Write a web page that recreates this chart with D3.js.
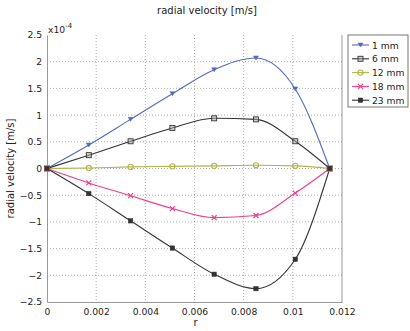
<!DOCTYPE html>
<html lang="en">
<head>
<meta charset="UTF-8">
<title>radial velocity</title>
<script src="https://cdn.jsdelivr.net/npm/d3@7"></script>
<style>
  body { margin: 0; background: #fff; }
  svg { font-family: "DejaVu Sans", Verdana, sans-serif; }
</style>
</head>
<body>
<svg id="chart" width="410" height="331"></svg>
<script>
// r positions of the samples (m)
const rValues = [0, 0.0017, 0.0034, 0.0051, 0.0068, 0.0085, 0.0101, 0.0115];

// radial velocity in units of 1e-4 m/s
const v1mm  = [0, 0.44, 0.92, 1.40, 1.85, 2.07, 1.49, 0];
const v6mm  = [0, 0.25, 0.51, 0.76, 0.94, 0.92, 0.51, 0];
const v12mm = [0, 0.01, 0.03, 0.04, 0.05, 0.06, 0.05, 0];
const v18mm = [0, -0.27, -0.51, -0.75, -0.92, -0.88, -0.46, 0];
const v23mm = [0, -0.47, -0.98, -1.49, -1.98, -2.25, -1.70, 0];

const seriesNames = ["1 mm", "6 mm", "12 mm", "18 mm", "23 mm"];
const seriesValues = [v1mm, v6mm, v12mm, v18mm, v23mm];
const seriesColors = ["#5468bd", "#333333", "#b3b34a", "#f03c8c", "#333333"];
const seriesMarkers = ["tri", "square", "circle", "cross", "fsquare"];

const xTicks = [0, 0.002, 0.004, 0.006, 0.008, 0.01, 0.012];
const yTicks = [-2.5, -2, -1.5, -1, -0.5, 0, 0.5, 1, 1.5, 2, 2.5];

const svg = d3.select("#chart");
const m = { left: 47, right: 342, top: 35, bottom: 302 };

const x = d3.scaleLinear().domain([0, 0.012]).range([m.left, m.right]);
const y = d3.scaleLinear().domain([-2.5, 2.5]).range([m.bottom, m.top]);

// grid
const grid = svg.append("g");
grid.selectAll("line.v").data(xTicks.slice(1, -1)).enter().append("line")
  .attr("x1", d => x(d)).attr("x2", d => x(d))
  .attr("y1", m.top).attr("y2", m.bottom)
  .attr("stroke", "#999").attr("stroke-width", 0.8).attr("stroke-dasharray", "1,2");
grid.selectAll("line.h").data(yTicks.slice(1, -1)).enter().append("line")
  .attr("x1", m.left).attr("x2", m.right)
  .attr("y1", d => y(d)).attr("y2", d => y(d))
  .attr("stroke", "#999").attr("stroke-width", 0.8).attr("stroke-dasharray", "1,2");

// axes
const xAxis = svg.append("g").attr("transform", `translate(0,${m.bottom})`)
  .call(d3.axisBottom(x).tickValues(xTicks).tickFormat(d => d3.format("~g")(d)).tickSize(0).tickPadding(6));
const yAxis = svg.append("g").attr("transform", `translate(${m.left},0)`)
  .call(d3.axisLeft(y).tickValues(yTicks).tickFormat(d => d3.format("~g")(d)).tickSize(0).tickPadding(5));
[xAxis, yAxis].forEach(a => {
  a.select(".domain").attr("stroke", "#999");
  a.selectAll("text").attr("font-size", 9.2).attr("fill", "#222")
    .attr("font-family", "'DejaVu Sans', Verdana, sans-serif");
});
svg.append("line").attr("x1", m.right).attr("x2", m.right)
  .attr("y1", m.top).attr("y2", m.bottom).attr("stroke", "#999");

// lines
const line = d3.line().x((d, i) => x(rValues[i])).y(d => y(d)).curve(d3.curveMonotoneX);
seriesValues.forEach((vals, k) => {
  svg.append("path").attr("d", line(vals)).attr("fill", "none")
    .attr("stroke", seriesColors[k]).attr("stroke-width", 1.1);
});

function marker(g, type, cx, cy, color) {
  if (type === "tri") {
    g.append("path").attr("d", `M${cx-2.5},${cy-2}L${cx+2.5},${cy-2}L${cx},${cy+2}Z`)
      .attr("fill", color).attr("stroke", color).attr("stroke-width", 0.5);
  } else if (type === "square") {
    g.append("rect").attr("x", cx - 2.5).attr("y", cy - 2.5).attr("width", 5).attr("height", 5)
      .attr("fill", "#aaa").attr("fill-opacity", 0.5).attr("stroke", color).attr("stroke-width", 0.9);
  } else if (type === "circle") {
    g.append("circle").attr("cx", cx).attr("cy", cy).attr("r", 2.6)
      .attr("fill", "none").attr("stroke", color).attr("stroke-width", 1.1);
  } else if (type === "cross") {
    g.append("path").attr("d", `M${cx-2.5},${cy-2.5}L${cx+2.5},${cy+2.5}M${cx-2.5},${cy+2.5}L${cx+2.5},${cy-2.5}`)
      .attr("stroke", color).attr("stroke-width", 1.1);
  } else {
    g.append("rect").attr("x", cx - 2.2).attr("y", cy - 2.2).attr("width", 4.4).attr("height", 4.4)
      .attr("fill", color).attr("stroke", color).attr("stroke-width", 0.5);
  }
}

const markG = svg.append("g");
seriesValues.forEach((vals, k) => {
  vals.forEach((v, i) => marker(markG, seriesMarkers[k], x(rValues[i]), y(v), seriesColors[k]));
});

// titles
svg.append("text").attr("x", 207).attr("y", 14).attr("text-anchor", "middle")
  .attr("font-size", 10).attr("fill", "#222").text("radial velocity [m/s]");
svg.append("text").attr("transform", `translate(14,${(m.top + m.bottom) / 2}) rotate(-90)`)
  .attr("text-anchor", "middle").attr("font-size", 10).attr("fill", "#222").text("radial velocity [m/s]");
svg.append("text").attr("x", (m.left + m.right) / 2 + 1).attr("y", 326).attr("text-anchor", "middle")
  .attr("font-size", 10).attr("fill", "#222").text("r");
const exp = svg.append("text").attr("x", 48).attr("y", 33).attr("font-size", 9.2).attr("fill", "#222");
exp.append("tspan").text("x10");
exp.append("tspan").attr("dy", -5).attr("font-size", 7).text("-4");

// legend
const lg = svg.append("g");
lg.append("rect").attr("x", 348).attr("y", 35).attr("width", 60).attr("height", 72)
  .attr("fill", "#fff").attr("stroke", "#555").attr("stroke-width", 0.8);
seriesNames.forEach((name, k) => {
  const ly = 45 + k * 13.8;
  lg.append("line").attr("x1", 352).attr("x2", 369).attr("y1", ly).attr("y2", ly)
    .attr("stroke", seriesColors[k]).attr("stroke-width", 1.1);
  marker(lg, seriesMarkers[k], 360.5, ly, seriesColors[k]);
  lg.append("text").attr("x", 372).attr("y", ly + 3.5).attr("font-size", 9.2)
    .attr("fill", "#222").text(name);
});
</script>
</body>
</html>
